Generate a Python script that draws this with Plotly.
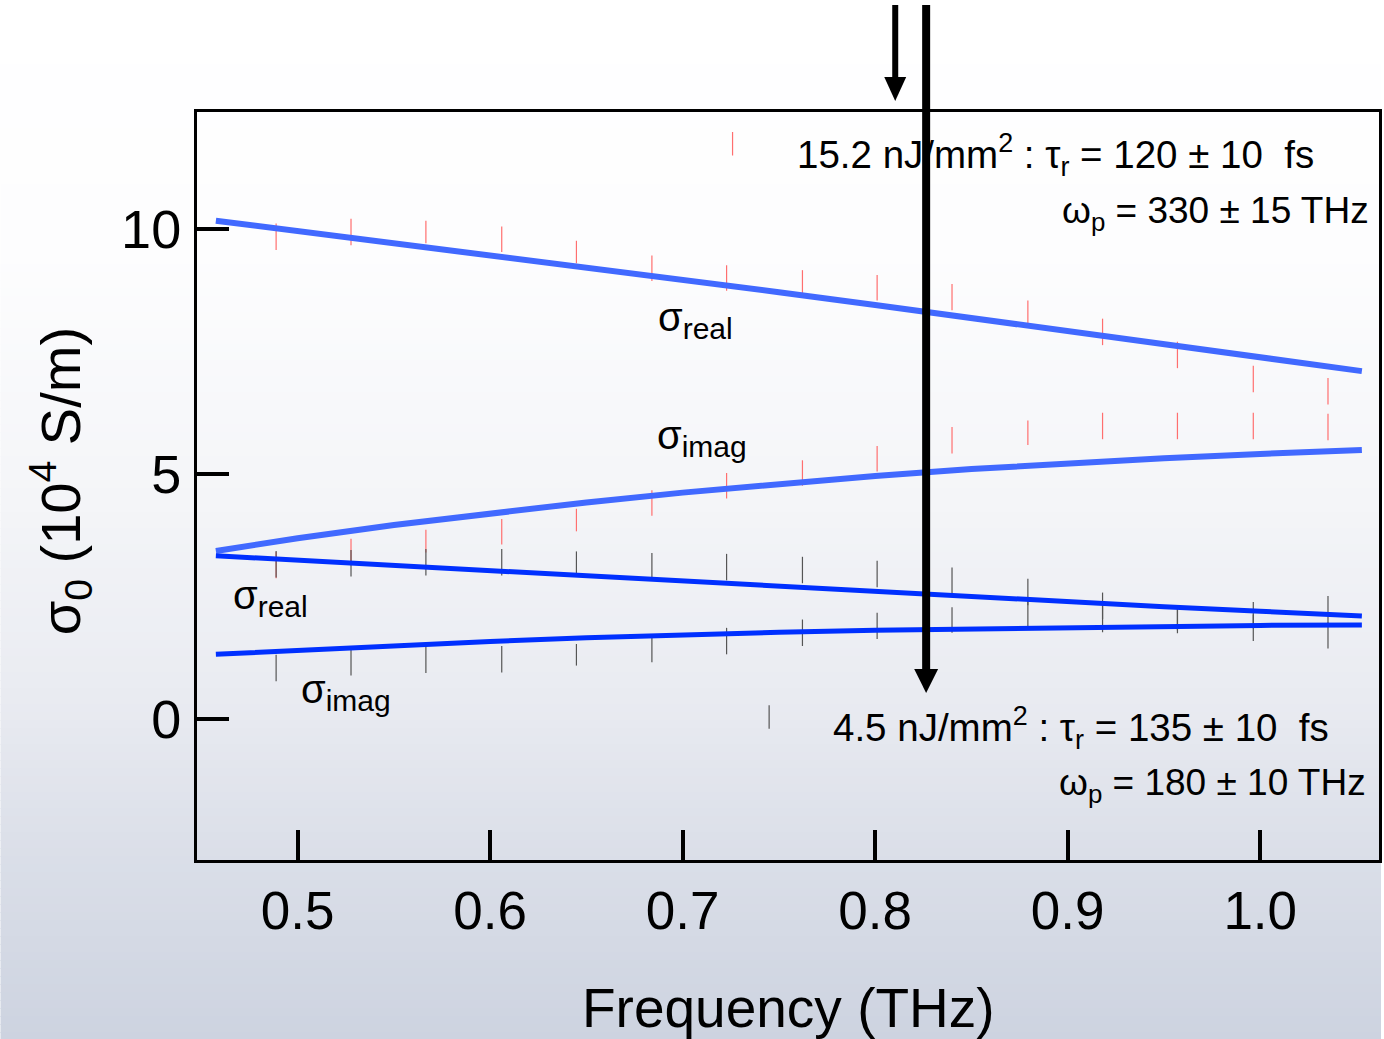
import plotly.graph_objects as go

# ---------------- data ----------------
freq_pts = [0.4888, 0.5277, 0.5666, 0.6060, 0.6448, 0.6840, 0.7228, 0.7622,
            0.8010, 0.8399, 0.8793, 0.9181, 0.9570, 0.9964, 1.0352]

# high fluence (15.2 nJ/mm^2) measured, red error bars
hi_real = [9.84, 9.94, 9.94, 9.79, 9.53, 9.20, 9.00, 8.90, 8.80, 8.61, 8.29, 7.90, 7.43, 6.94, 6.69]
hi_imag = [3.14, 3.41, 3.63, 3.82, 4.06, 4.41, 4.76, 5.02, 5.31, 5.69, 5.84, 5.98, 5.98, 5.98, 5.96]
hi_err = [0.27, 0.27, 0.23, 0.26, 0.23, 0.26, 0.26, 0.26, 0.26, 0.27, 0.25, 0.27, 0.27, 0.27, 0.27]

# low fluence (4.5 nJ/mm^2) measured, grey error bars
lo_real = [3.16, 3.18, 3.20, 3.20, 3.20, 3.14, 3.10, 3.04, 2.96, 2.83, 2.59, 2.31, 2.06, 2.12, 2.24]
lo_imag = [1.04, 1.16, 1.21, 1.22, 1.31, 1.41, 1.59, 1.76, 1.90, 2.02, 2.16, 2.04, 2.00, 1.86, 1.71]
lo_err = [0.27, 0.27, 0.27, 0.27, 0.22, 0.25, 0.27, 0.27, 0.27, 0.26, 0.27, 0.27, 0.25, 0.27, 0.27]

# isolated points
odd_hi_x, odd_hi_y, odd_hi_e = [0.7259], [11.74], [0.24]
odd_lo_x, odd_lo_y, odd_lo_e = [0.7449], [0.04], [0.24]

# Drude fit curves
fit_f = [0.4575, 0.50, 0.55, 0.60, 0.65, 0.70, 0.75, 0.80, 0.85, 0.90, 0.95, 1.00, 1.0528]
fit_hi_real = [10.17, 9.96, 9.72, 9.47, 9.22, 8.97, 8.71, 8.45, 8.18, 7.91, 7.64, 7.37, 7.10]
fit_hi_imag = [3.43, 3.69, 3.96, 4.20, 4.42, 4.62, 4.80, 4.96, 5.10, 5.22, 5.32, 5.41, 5.49]
fit_lo_real = [3.33, 3.24, 3.13, 3.02, 2.91, 2.80, 2.70, 2.59, 2.49, 2.39, 2.29, 2.20, 2.10]
fit_lo_imag = [1.32, 1.40, 1.50, 1.58, 1.66, 1.72, 1.77, 1.81, 1.84, 1.87, 1.89, 1.91, 1.92]

x_ticks = [0.5, 0.6, 0.7, 0.8, 0.9, 1.0]
x_ticklabels = ["0.5", "0.6", "0.7", "0.8", "0.9", "1.0"]
y_ticks = [0, 5, 10]
y_ticklabels = ["0", "5", "10"]

# ---------------- figure ----------------
W, H = 1384, 1039
ML, MR, MT, MB = 197, 2, 112, 179
PW, PH = W - ML - MR, H - MT - MB

FONT = "Liberation Sans, Arial, sans-serif"
RED = "#ff6f6f"
GREY = "#555555"
BLUE_HI = "#4169ff"
BLUE_LO = "#0030ff"

fig = go.Figure()

def err_trace(x, y, e, color):
    fig.add_trace(go.Scatter(
        x=x, y=y, mode="markers",
        marker=dict(size=0.1, color="rgba(0,0,0,0)"),
        error_y=dict(type="data", array=e, visible=True, color=color, thickness=1.2, width=0),
        showlegend=False, hoverinfo="skip"))

err_trace(freq_pts, hi_real, hi_err, RED)
err_trace(freq_pts, hi_imag, hi_err, RED)
err_trace(odd_hi_x, odd_hi_y, odd_hi_e, RED)
err_trace(freq_pts, lo_real, lo_err, GREY)
err_trace(freq_pts, lo_imag, lo_err, GREY)
err_trace(odd_lo_x, odd_lo_y, odd_lo_e, GREY)

for ys, col, w in [(fit_hi_real, BLUE_HI, 6), (fit_hi_imag, BLUE_HI, 6),
                   (fit_lo_real, BLUE_LO, 5), (fit_lo_imag, BLUE_LO, 5)]:
    fig.add_trace(go.Scatter(x=fit_f, y=ys, mode="lines", line=dict(color=col, width=w),
                             showlegend=False, hoverinfo="skip"))

# ---------------- background gradient ----------------
stops = [(0, (255, 255, 255)), (250, (253, 253, 254)), (500, (244, 245, 248)),
         (700, (233, 235, 241)), (860, (218, 222, 232)), (1039, (205, 211, 224))]

def col_at(py):
    for (y0, c0), (y1, c1) in zip(stops[:-1], stops[1:]):
        if y0 <= py <= y1:
            t = (py - y0) / (y1 - y0)
            return tuple(round(a + (b - a) * t) for a, b in zip(c0, c1))
    return stops[-1][1]

def px2paper_x(px):
    return (px - ML) / PW

def px2paper_y(py):
    return (H - MB - py) / PH

shapes = []
step = 8
for py in range(0, H, step):
    c = col_at(py + step / 2)
    shapes.append(dict(type="rect", xref="paper", yref="paper", layer="below",
                       x0=px2paper_x(0), x1=px2paper_x(W), y0=px2paper_y(py + step + 1), y1=px2paper_y(py),
                       line=dict(width=0), fillcolor="rgb(%d,%d,%d)" % c))

# ---------------- arrows ----------------
def arrow(xc, ytop, ytip, shaft_w, head_w, head_len):
    shapes.append(dict(type="line", xref="paper", yref="paper", layer="above",
                       x0=px2paper_x(xc), x1=px2paper_x(xc),
                       y0=px2paper_y(ytop), y1=px2paper_y(ytip - head_len + 2),
                       line=dict(color="black", width=shaft_w)))
    path = "M %f,%f L %f,%f L %f,%f Z" % (
        px2paper_x(xc - head_w / 2), px2paper_y(ytip - head_len),
        px2paper_x(xc + head_w / 2), px2paper_y(ytip - head_len),
        px2paper_x(xc), px2paper_y(ytip))
    shapes.append(dict(type="path", xref="paper", yref="paper", layer="above", path=path,
                       fillcolor="black", line=dict(width=0)))

arrow(897, 5, 101, 6, 22, 24)
arrow(928, 5, 693, 8, 24, 24)

# ---------------- annotations ----------------
ann = []
def label(x, y, text, size, xanchor="left"):
    ann.append(dict(x=x, y=y, xref="x", yref="y", text=text, showarrow=False,
                    xanchor=xanchor, yanchor="middle", font=dict(size=size, color="black", family=FONT)))

def sig(sub):
    return "σ<sub><span style='font-size:30px'>%s</span></sub>" % sub

label(0.6860, 8.14, sig("real"), 40)
label(0.6855, 5.73, sig("imag"), 40)
label(0.4653, 2.47, sig("real"), 40)
label(0.5005, 0.55, sig("imag"), 40)

label(0.7585, 11.51, "15.2 nJ/mm<sup>2</sup> : τ<sub>r</sub> = 120 ± 10 \u00a0fs", 38.5)
label(0.8960, 10.33, "ω<sub>p</sub> = 330 ± 15 THz", 37)
label(0.7772, -0.18, "4.5 nJ/mm<sup>2</sup> : τ<sub>r</sub> = 135 ± 10 \u00a0fs", 38.5)
label(0.8945, -1.35, "ω<sub>p</sub> = 180 ± 10 THz", 37)

# axis titles as annotations for precise placement
ann.append(dict(x=px2paper_x(790), y=px2paper_y(1008), xref="paper", yref="paper",
                text="Frequency (THz)", showarrow=False, xanchor="center", yanchor="middle",
                font=dict(size=55, color="black", family=FONT)))
ann.append(dict(x=px2paper_x(60), y=px2paper_y(481), xref="paper", yref="paper",
                text="σ<sub>0</sub> (10<sup>4</sup> S/m)", showarrow=False, xanchor="center", yanchor="middle",
                textangle=-90, font=dict(size=56, color="black", family=FONT)))

fig.update_layout(
    width=W, height=H,
    margin=dict(l=ML, r=MR, t=MT, b=MB, pad=0),
    paper_bgcolor="rgba(0,0,0,0)", plot_bgcolor="rgba(0,0,0,0)",
    font=dict(family=FONT, color="black"),
    shapes=shapes, annotations=ann,
    showlegend=False,
)
fig.update_xaxes(range=[0.4477, 1.0617], tickvals=x_ticks, ticktext=x_ticklabels,
                 ticks="inside", ticklen=30, tickwidth=4, tickcolor="black",
                 showline=True, linewidth=3, linecolor="black", mirror=True,
                 showgrid=False, zeroline=False, tickfont=dict(size=53, family=FONT),
                 ticklabelstandoff=2)
fig.update_yaxes(range=[-2.878, 12.388], tickvals=y_ticks, ticktext=y_ticklabels,
                 ticks="inside", ticklen=32, tickwidth=4, tickcolor="black",
                 showline=True, linewidth=3, linecolor="black", mirror=True,
                 showgrid=False, zeroline=False, tickfont=dict(size=54, family=FONT),
                 ticklabelstandoff=2)

fig.write_html("out.html", config={"displayModeBar": False},
               post_script="document.body.style.margin='0';document.body.style.overflow='hidden';")
